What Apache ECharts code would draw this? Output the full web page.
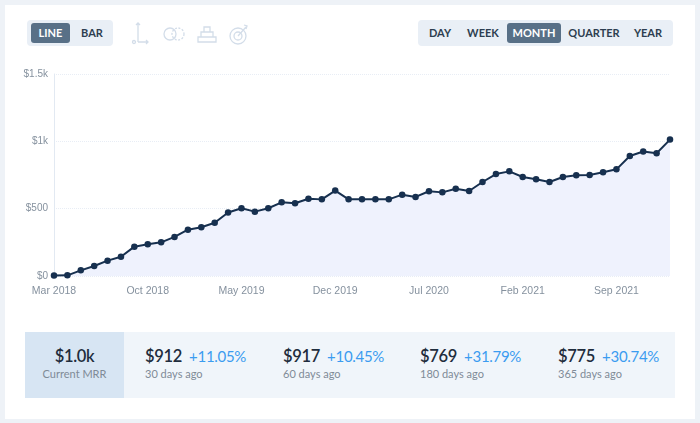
<!DOCTYPE html>
<html>
<head>
<meta charset="utf-8">
<script src="https://cdn.jsdelivr.net/npm/echarts@6/dist/echarts.min.js"></script>
<style>
  html, body { margin: 0; padding: 0; }
  body { width: 700px; height: 423px; background: #eef2f7; position: relative; overflow: hidden; font-family: Lato, "Noto Sans", sans-serif; }
  #card { position: absolute; left: 5px; top: 5px; width: 690px; height: 414px; background: #fff; }
  #chart { position: absolute; left: 0; top: 0; width: 700px; height: 423px; }
  .seg { position: absolute; top: 20px; height: 26px; background: #e9eff6; border-radius: 4px; }
  .btn { position: absolute; top: 3px; height: 20px; line-height: 20px; font-size: 11px; font-weight: bold; color: #2d3e50; text-align: center; }
  .btn.on { background: #587087; color: #fff; border-radius: 3px; }
  .icons { position: absolute; left: 130px; top: 20px; }
  .strip { position: absolute; left: 25px; top: 332px; width: 650px; height: 66px; background: #f0f5fa; }
  .cur { position: absolute; left: 0; top: 0; width: 99px; height: 66px; background: #d7e5f3; text-align: center; }
  .big { font-size: 16.5px; font-weight: 600; color: #1f2d3d; letter-spacing: -0.3px; }
  .sub { font-size: 11px; color: #7f8b97; margin-top: 1px; }
  .item { position: absolute; top: 14px; white-space: nowrap; }
  .pct { font-size: 15px; color: #3b9cf0; margin-left: 7px; letter-spacing: -0.3px; }
</style>
</head>
<body>
<div id="card"></div>
<div id="chart"></div>

<div class="seg" style="left:27px;width:86px;">
  <div class="btn on" style="left:4px;width:39px;">LINE</div>
  <div class="btn" style="left:47px;width:36px;">BAR</div>
</div>
<svg class="icons" width="125" height="28" viewBox="0 0 125 28" fill="none" stroke="#d3dde9" stroke-width="1.3">
  <path d="M8 3 L8 22 M6 5 L8 3 L10 5 M8 22 L18 22 M16 20 L18 22 L16 24"/>
  <circle cx="4" cy="22" r="1.5"/>
  <circle cx="40" cy="14" r="6"/>
  <circle cx="48" cy="14" r="6" stroke-dasharray="2 1.5"/>
  <path d="M68 22 L86 22 L86 17 L68 17 Z M71 17 L71 12 L83 12 L83 17 M74 12 L74 7 L80 7 L80 12"/>
  <circle cx="108" cy="16" r="8"/>
  <circle cx="108" cy="16" r="4"/>
  <path d="M108 16 L116 7 M114 5 L117 6 L116 9"/>
</svg>

<div class="seg" style="left:418px;width:255px;">
  <div class="btn" style="left:6px;width:32px;">DAY</div>
  <div class="btn" style="left:44px;width:42px;">WEEK</div>
  <div class="btn on" style="left:89px;width:54px;">MONTH</div>
  <div class="btn" style="left:148px;width:56px;">QUARTER</div>
  <div class="btn" style="left:211px;width:38px;">YEAR</div>
</div>

<div class="strip">
  <div class="cur">
    <div class="big" style="margin-top:14px;">$1.0k</div>
    <div class="sub">Current MRR</div>
  </div>
  <div class="item" style="left:120px;"><span class="big">$912</span><span class="pct">+11.05%</span><div class="sub">30 days ago</div></div>
  <div class="item" style="left:258px;"><span class="big">$917</span><span class="pct">+10.45%</span><div class="sub">60 days ago</div></div>
  <div class="item" style="left:395px;"><span class="big">$769</span><span class="pct">+31.79%</span><div class="sub">180 days ago</div></div>
  <div class="item" style="left:533px;"><span class="big">$775</span><span class="pct">+30.74%</span><div class="sub">365 days ago</div></div>
</div>

<script>
var months = [
  'Mar 2018', 'Apr 2018', 'May 2018', 'Jun 2018', 'Jul 2018', 'Aug 2018', 'Sep 2018', 'Oct 2018',
  'Nov 2018', 'Dec 2018', 'Jan 2019', 'Feb 2019', 'Mar 2019', 'Apr 2019', 'May 2019', 'Jun 2019',
  'Jul 2019', 'Aug 2019', 'Sep 2019', 'Oct 2019', 'Nov 2019', 'Dec 2019', 'Jan 2020', 'Feb 2020',
  'Mar 2020', 'Apr 2020', 'May 2020', 'Jun 2020', 'Jul 2020', 'Aug 2020', 'Sep 2020', 'Oct 2020',
  'Nov 2020', 'Dec 2020', 'Jan 2021', 'Feb 2021', 'Mar 2021', 'Apr 2021', 'May 2021', 'Jun 2021',
  'Jul 2021', 'Aug 2021', 'Sep 2021', 'Oct 2021', 'Nov 2021', 'Dec 2021', 'Jan 2022'
];
var mrr = [
  3, 5, 42, 74, 114, 143, 218, 235, 250, 290, 344, 362, 395, 472, 503, 478,
  503, 547, 540, 574, 569, 634, 569, 569, 569, 569, 604, 587, 629, 621, 648, 631,
  698, 757, 777, 735, 719, 698, 735, 748, 750, 770, 792, 891, 924, 912, 1013
];
var yTicks = [0, 500, 1000, 1500];
var yTickLabels = ['$0', '$500', '$1k', '$1.5k'];

var chart = echarts.init(document.getElementById('chart'));
var option = {
  animation: false,
  grid: { left: 54, right: 30, top: 74, bottom: 147 },
  xAxis: {
    type: 'category',
    data: months,
    boundaryGap: false,
    axisLine: { show: false },
    axisTick: { show: false },
    axisLabel: {
      interval: 6,
      color: '#85919e',
      fontSize: 10.5,
      fontFamily: 'Liberation Sans',
      margin: 10
    },
    splitLine: { show: false }
  },
  yAxis: {
    type: 'value',
    min: 0,
    max: 1500,
    interval: 500,
    axisLine: { show: true, lineStyle: { color: '#e2e9f2' } },
    axisTick: { show: false },
    axisLabel: {
      color: '#85919e',
      fontSize: 10,
      fontFamily: 'Liberation Sans',
      margin: 6,
      formatter: function (v) {
        var i = yTicks.indexOf(v);
        return i >= 0 ? yTickLabels[i] : '';
      }
    },
    splitLine: { lineStyle: { color: '#e8edf5', type: 'dotted' } }
  },
  series: [
    {
      type: 'line',
      data: mrr,
      symbol: 'circle',
      symbolSize: 6.5,
      itemStyle: { color: '#17304f' },
      lineStyle: { color: '#17304f', width: 2 },
      areaStyle: { color: '#eff2fd', opacity: 1 }
    }
  ]
};
chart.setOption(option);
</script>
</body>
</html>
